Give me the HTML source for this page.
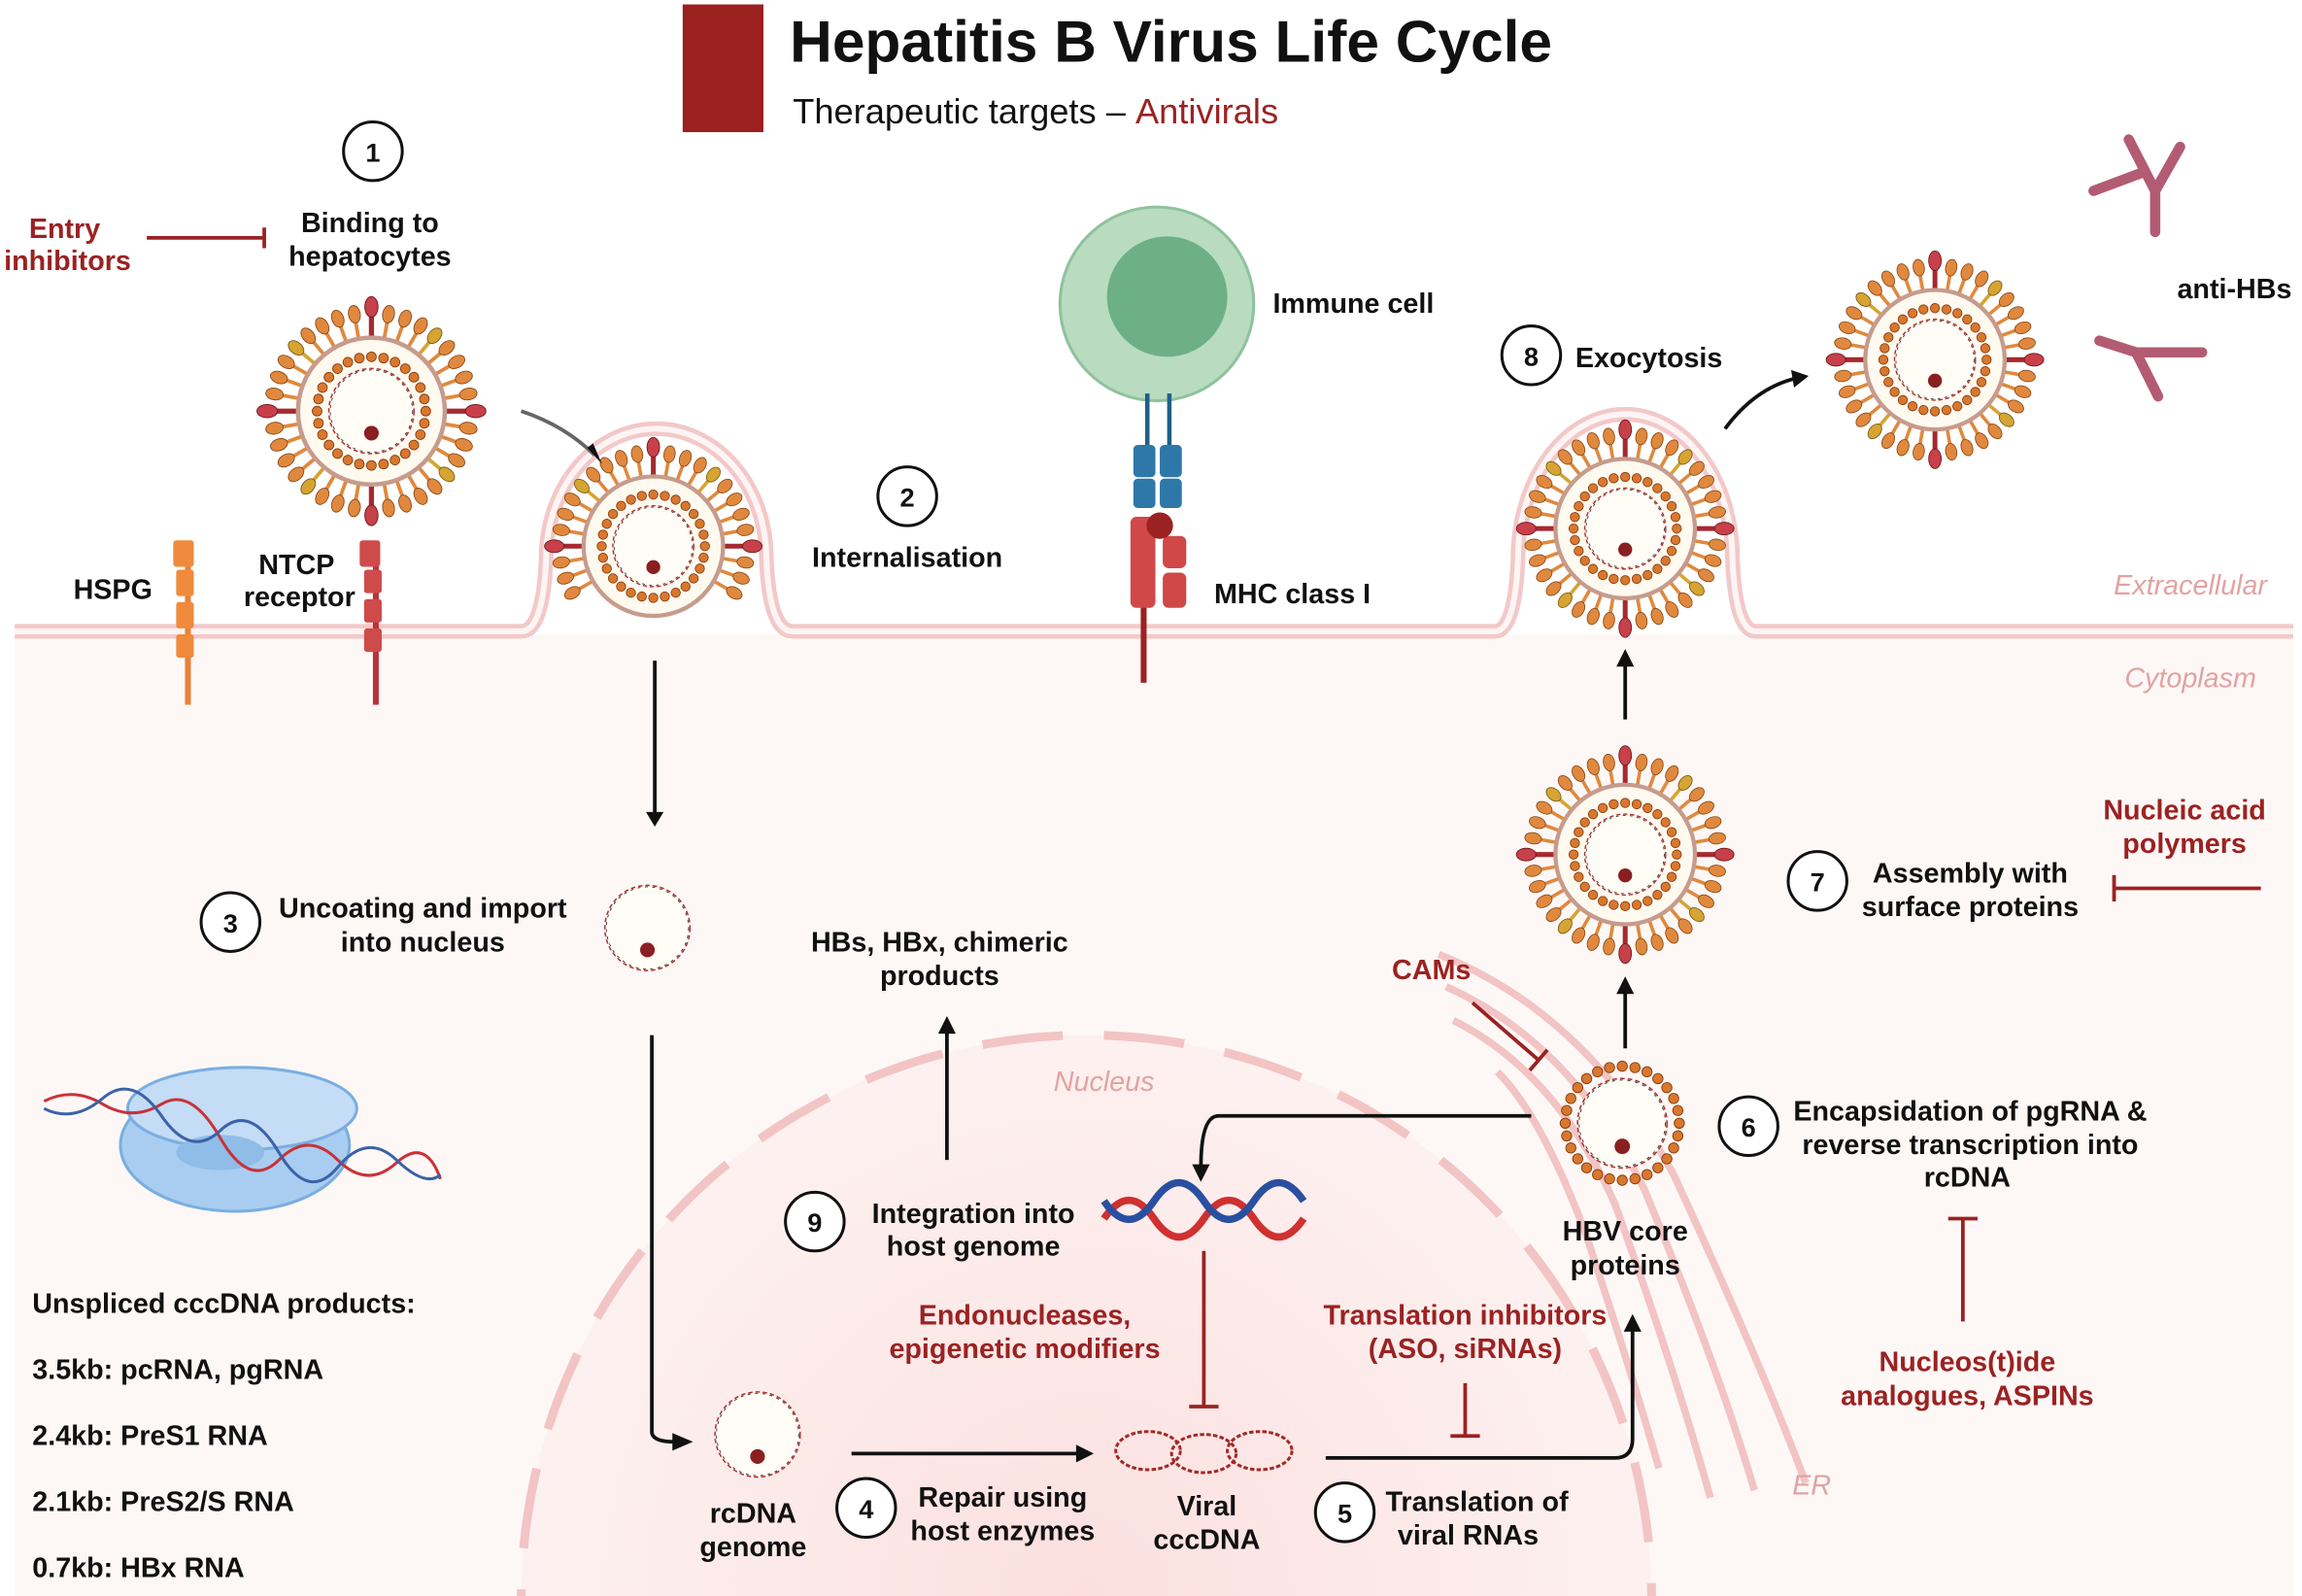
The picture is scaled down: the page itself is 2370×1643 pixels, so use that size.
<!DOCTYPE html>
<html><head><meta charset="utf-8"><style>
html,body{margin:0;padding:0;background:#fff;overflow:hidden;width:2370px;height:1643px}
svg{display:block}
text{font-family:"Liberation Sans",Arial,sans-serif;font-weight:bold;fill:#111}
.r{fill:#9b2222}
.it{font-style:italic;font-weight:normal;fill:#e3a2a2}
</style></head><body>
<svg width="2370" height="1643" viewBox="0 0 1568 1087" xmlns="http://www.w3.org/2000/svg" xmlns:xlink="http://www.w3.org/1999/xlink">
<defs>
<radialGradient id="nuc" cx="0.5" cy="0.5" r="0.5"><stop offset="0" stop-color="#fbe0df"/><stop offset="1" stop-color="#fdf1f0"/></radialGradient>
<g id="o"><line x1="50" y1="0" x2="64" y2="0" stroke="#e0893e" stroke-width="2.5"/><ellipse cx="67" cy="0" rx="6" ry="4" fill="#e0893e" stroke="#8a4a1a" stroke-width="0.6"/></g>
<g id="rd"><line x1="50" y1="0" x2="68" y2="0" stroke="#a52a30" stroke-width="3.5"/><ellipse cx="71" cy="0" rx="7" ry="4.5" fill="#c8404a" stroke="#6a1a1a" stroke-width="0.6"/></g>
<g id="y"><line x1="50" y1="0" x2="64" y2="0" stroke="#d6a531" stroke-width="2.5"/><ellipse cx="67" cy="0" rx="6" ry="4" fill="#d6a531" stroke="#7a5a1a" stroke-width="0.6"/></g>
<g id="spT">
<use xlink:href="#rd" href="#rd"/><use xlink:href="#o" href="#o" transform="rotate(10)"/><use xlink:href="#o" href="#o" transform="rotate(20)"/><use xlink:href="#o" href="#o" transform="rotate(30)"/>
<use xlink:href="#o" href="#o" transform="rotate(150)"/><use xlink:href="#o" href="#o" transform="rotate(160)"/><use xlink:href="#o" href="#o" transform="rotate(170)"/><use xlink:href="#rd" href="#rd" transform="rotate(180)"/>
<use xlink:href="#o" href="#o" transform="rotate(190)"/><use xlink:href="#o" href="#o" transform="rotate(200)"/><use xlink:href="#o" href="#o" transform="rotate(210)"/><use xlink:href="#y" href="#y" transform="rotate(220)"/>
<use xlink:href="#o" href="#o" transform="rotate(230)"/><use xlink:href="#o" href="#o" transform="rotate(240)"/><use xlink:href="#o" href="#o" transform="rotate(250)"/><use xlink:href="#o" href="#o" transform="rotate(260)"/>
<use xlink:href="#rd" href="#rd" transform="rotate(270)"/><use xlink:href="#o" href="#o" transform="rotate(280)"/><use xlink:href="#o" href="#o" transform="rotate(290)"/><use xlink:href="#o" href="#o" transform="rotate(300)"/>
<use xlink:href="#y" href="#y" transform="rotate(310)"/><use xlink:href="#o" href="#o" transform="rotate(320)"/><use xlink:href="#o" href="#o" transform="rotate(330)"/><use xlink:href="#o" href="#o" transform="rotate(340)"/><use xlink:href="#o" href="#o" transform="rotate(350)"/>
</g>
<g id="spB">
<use xlink:href="#y" href="#y" transform="rotate(40)"/><use xlink:href="#o" href="#o" transform="rotate(50)"/><use xlink:href="#o" href="#o" transform="rotate(60)"/><use xlink:href="#o" href="#o" transform="rotate(70)"/>
<use xlink:href="#o" href="#o" transform="rotate(80)"/><use xlink:href="#rd" href="#rd" transform="rotate(90)"/><use xlink:href="#o" href="#o" transform="rotate(100)"/><use xlink:href="#o" href="#o" transform="rotate(110)"/>
<use xlink:href="#o" href="#o" transform="rotate(120)"/><use xlink:href="#y" href="#y" transform="rotate(130)"/><use xlink:href="#o" href="#o" transform="rotate(140)"/>
</g>
<circle id="cd" cx="37" cy="0" r="3.3" fill="#d8782e" stroke="#8a3b10" stroke-width="0.6"/>
<g id="ring">
<circle r="29" fill="#fffdf6" stroke="#b03030" stroke-width="1" stroke-dasharray="3 2"/>
<circle r="28" fill="none" stroke="#333" stroke-width="0.6" stroke-dasharray="2 3"/>
<circle cx="0" cy="15" r="5" fill="#8a1f22"/>
</g>
<g id="core">
<use xlink:href="#cd" href="#cd"/><use xlink:href="#cd" href="#cd" transform="rotate(12.86)"/><use xlink:href="#cd" href="#cd" transform="rotate(25.7)"/><use xlink:href="#cd" href="#cd" transform="rotate(38.6)"/>
<use xlink:href="#cd" href="#cd" transform="rotate(51.4)"/><use xlink:href="#cd" href="#cd" transform="rotate(64.3)"/><use xlink:href="#cd" href="#cd" transform="rotate(77.1)"/><use xlink:href="#cd" href="#cd" transform="rotate(90)"/>
<use xlink:href="#cd" href="#cd" transform="rotate(102.9)"/><use xlink:href="#cd" href="#cd" transform="rotate(115.7)"/><use xlink:href="#cd" href="#cd" transform="rotate(128.6)"/><use xlink:href="#cd" href="#cd" transform="rotate(141.4)"/>
<use xlink:href="#cd" href="#cd" transform="rotate(154.3)"/><use xlink:href="#cd" href="#cd" transform="rotate(167.1)"/><use xlink:href="#cd" href="#cd" transform="rotate(180)"/><use xlink:href="#cd" href="#cd" transform="rotate(192.9)"/>
<use xlink:href="#cd" href="#cd" transform="rotate(205.7)"/><use xlink:href="#cd" href="#cd" transform="rotate(218.6)"/><use xlink:href="#cd" href="#cd" transform="rotate(231.4)"/><use xlink:href="#cd" href="#cd" transform="rotate(244.3)"/>
<use xlink:href="#cd" href="#cd" transform="rotate(257.1)"/><use xlink:href="#cd" href="#cd" transform="rotate(270)"/><use xlink:href="#cd" href="#cd" transform="rotate(282.9)"/><use xlink:href="#cd" href="#cd" transform="rotate(295.7)"/>
<use xlink:href="#cd" href="#cd" transform="rotate(308.6)"/><use xlink:href="#cd" href="#cd" transform="rotate(321.4)"/><use xlink:href="#cd" href="#cd" transform="rotate(334.3)"/><use xlink:href="#cd" href="#cd" transform="rotate(347.1)"/>
<use xlink:href="#ring" href="#ring"/>
</g>
<g id="vT"><use xlink:href="#spT" href="#spT"/><circle r="50" fill="#fffaf0" stroke="#c79b8c" stroke-width="3"/><use xlink:href="#core" href="#core"/></g>
<g id="v"><use xlink:href="#spB" href="#spB"/><use xlink:href="#vT" href="#vT"/></g>
</defs>
<!-- cytoplasm -->
<rect x="10" y="432" width="1552" height="655" fill="#fdf8f6"/>
<!-- nucleus -->
<circle cx="740" cy="1090" r="385" fill="url(#nuc)" stroke="#f3c4c4" stroke-width="6" stroke-dasharray="55 28"/>
<!-- ER -->
<g fill="none" stroke="#f2c4c4" stroke-width="5">
<path d="M980,650 Q1080,690 1140,800 Q1200,930 1230,1010"/>
<path d="M985,672 Q1070,710 1120,810 Q1170,930 1195,1015"/>
<path d="M990,695 Q1060,730 1100,820 Q1140,930 1165,1020"/>
<path d="M1020,730 Q1050,760 1080,840 Q1110,930 1130,1000"/>
</g>
<!-- membrane -->
<path d="M10,430 H355 Q370,430 372,380 A75,88 0 0 1 522,380 Q524,430 540,430 H1018 Q1032,430 1034,380 A73,98 0 0 1 1180,380 Q1182,430 1196,430 H1562" fill="none" stroke="#f3c8c8" stroke-width="10"/>
<path d="M10,430 H355 Q370,430 372,380 A75,88 0 0 1 522,380 Q524,430 540,430 H1018 Q1032,430 1034,380 A73,98 0 0 1 1180,380 Q1182,430 1196,430 H1562" fill="none" stroke="#fdf4f4" stroke-width="4"/>
<!-- viruses -->
<use xlink:href="#v" href="#v" transform="translate(253,280)"/>
<use xlink:href="#vT" href="#vT" transform="translate(445,372) scale(0.95)"/>
<use xlink:href="#v" href="#v" transform="translate(1107,360) scale(0.95)"/>
<use xlink:href="#v" href="#v" transform="translate(1318,245) scale(0.95)"/>
<use xlink:href="#v" href="#v" transform="translate(1107,582) scale(0.95)"/>
<use xlink:href="#core" href="#core" transform="translate(1105,765) scale(1.05)"/>
<use xlink:href="#ring" href="#ring" transform="translate(441,632)"/>
<use xlink:href="#ring" href="#ring" transform="translate(516,977)"/>
<!-- Title -->
<rect x="465" y="3" width="55" height="87" fill="#9b2020"/>
<text x="538" y="42" font-size="40">Hepatitis B Virus Life Cycle</text>
<text x="540" y="84" font-size="24" style="font-weight:normal">Therapeutic targets – <tspan class="r">Antivirals</tspan></text>
<!-- numbers -->
<g fill="#fff" stroke="#111" stroke-width="2">
<circle cx="254" cy="103" r="20"/><circle cx="618" cy="338" r="20"/><circle cx="157" cy="628" r="20"/>
<circle cx="590" cy="1027" r="20"/><circle cx="916" cy="1030" r="20"/><circle cx="1191" cy="767" r="20"/>
<circle cx="1238" cy="600" r="20"/><circle cx="1043" cy="242" r="20"/><circle cx="555" cy="832" r="20"/>
</g>
<g font-size="18" text-anchor="middle">
<text x="254" y="110">1</text><text x="618" y="345">2</text><text x="157" y="635">3</text>
<text x="590" y="1034">4</text><text x="916" y="1037">5</text><text x="1191" y="774">6</text>
<text x="1238" y="607">7</text><text x="1043" y="249">8</text><text x="555" y="839">9</text>
</g>
<g font-size="19">
<text x="252" y="158" text-anchor="middle">Binding to</text><text x="252" y="181" text-anchor="middle">hepatocytes</text>
<text class="r" x="44" y="162" text-anchor="middle">Entry</text><text class="r" x="46" y="184" text-anchor="middle">inhibitors</text>
<text x="618" y="386" text-anchor="middle">Internalisation</text>
<text x="50" y="408">HSPG</text>
<text x="202" y="391" text-anchor="middle">NTCP</text><text x="204" y="413" text-anchor="middle">receptor</text>
<text x="867" y="213">Immune cell</text>
<text x="827" y="411">MHC class I</text>
<text x="1073" y="250">Exocytosis</text>
<text x="1522" y="203" text-anchor="middle">anti-HBs</text>
<text x="288" y="625" text-anchor="middle">Uncoating and import</text><text x="288" y="648" text-anchor="middle">into nucleus</text>
<text x="640" y="648" text-anchor="middle">HBs, HBx, chimeric</text><text x="640" y="671" text-anchor="middle">products</text>
<text x="1342" y="601" text-anchor="middle">Assembly with</text><text x="1342" y="624" text-anchor="middle">surface proteins</text>
<text class="r" x="1488" y="558" text-anchor="middle">Nucleic acid</text><text class="r" x="1488" y="581" text-anchor="middle">polymers</text>
<text class="r" x="975" y="667" text-anchor="middle">CAMs</text>
<text x="1342" y="763" text-anchor="middle">Encapsidation of pgRNA &amp;</text><text x="1342" y="786" text-anchor="middle">reverse transcription into</text><text x="1340" y="808" text-anchor="middle">rcDNA</text>
<text x="663" y="833" text-anchor="middle">Integration into</text><text x="663" y="855" text-anchor="middle">host genome</text>
<text x="1107" y="845" text-anchor="middle">HBV core</text><text x="1107" y="868" text-anchor="middle">proteins</text>
<text class="r" x="698" y="902" text-anchor="middle">Endonucleases,</text><text class="r" x="698" y="925" text-anchor="middle">epigenetic modifiers</text>
<text class="r" x="998" y="902" text-anchor="middle">Translation inhibitors</text><text class="r" x="998" y="925" text-anchor="middle">(ASO, siRNAs)</text>
<text class="r" x="1340" y="934" text-anchor="middle">Nucleos(t)ide</text><text class="r" x="1340" y="957" text-anchor="middle">analogues, ASPINs</text>
<text x="22" y="894">Unspliced cccDNA products:</text>
<text x="22" y="939">3.5kb: pcRNA, pgRNA</text>
<text x="22" y="984">2.4kb: PreS1 RNA</text>
<text x="22" y="1029">2.1kb: PreS2/S RNA</text>
<text x="22" y="1074">0.7kb: HBx RNA</text>
<text x="513" y="1037" text-anchor="middle">rcDNA</text><text x="513" y="1060" text-anchor="middle">genome</text>
<text x="683" y="1026" text-anchor="middle">Repair using</text><text x="683" y="1049" text-anchor="middle">host enzymes</text>
<text x="822" y="1032" text-anchor="middle">Viral</text><text x="822" y="1055" text-anchor="middle">cccDNA</text>
<text x="1006" y="1029" text-anchor="middle">Translation of</text><text x="1000" y="1052" text-anchor="middle">viral RNAs</text>
</g>
<g font-size="19">
<text class="it" x="1492" y="405" text-anchor="middle">Extracellular</text>
<text class="it" x="1492" y="468" text-anchor="middle">Cytoplasm</text>
<text class="it" x="752" y="743" text-anchor="middle">Nucleus</text>
<text class="it" x="1234" y="1018" text-anchor="middle">ER</text>
</g>
<!-- arrows -->
<g stroke="#111" stroke-width="2.5" fill="none">
<path d="M446,450 V555"/><path d="M444,705 V975 Q444,982 460,982"/>
<path d="M580,990 H735"/><path d="M903,993 H1100 Q1112,993 1112,980 V905"/>
<path d="M645,790 V702"/><path d="M1043,760 H830 Q818,760 818,795"/>
<path d="M1107,714 V675"/><path d="M1107,490 V452"/>
<path d="M1175,292 Q1195,265 1222,258"/>
<path d="M355,280 Q385,290 405,310" stroke="#666"/>
</g>
<g fill="#111">
<path d="M440,553 L446,563 L452,553Z"/><path d="M458,976 L472,982 L458,988Z"/><path d="M733,984 L745,990 L733,996Z"/>
<path d="M1106,907 L1112,895 L1118,907Z"/><path d="M639,704 L645,692 L651,704Z"/><path d="M812,793 L818,805 L824,793Z"/>
<path d="M1101,677 L1107,665 L1113,677Z"/><path d="M1101,454 L1107,442 L1113,454Z"/><path d="M1220,252 L1232,256 L1222,264Z"/>
<path d="M400,305 L410,316 L404,302Z"/>
</g>
<!-- inhibitor lines -->
<g stroke="#9b2222" stroke-width="2.5" fill="none">
<path d="M100,162 H180 M180,155 V169"/>
<path d="M1540,605 H1440 M1440,596 V614"/>
<path d="M1003,683 L1048,722 M1042,729 L1054,715"/>
<path d="M820,852 V958 M810,958 H830"/>
<path d="M998,942 V978 M988,978 H1008"/>
<path d="M1337,900 V830 M1327,830 H1347"/>
</g>
<!-- receptors -->
<rect x="126" y="370" width="4" height="110" fill="#e8823a"/>
<g fill="#f08a3c"><rect x="118" y="368" width="14" height="18" rx="2"/><rect x="120" y="388" width="12" height="18" rx="2"/><rect x="120" y="410" width="12" height="18" rx="2"/><rect x="120" y="432" width="12" height="16" rx="2"/></g>
<rect x="254" y="370" width="4" height="110" fill="#b8323a"/>
<g fill="#cf4b4b"><rect x="245" y="368" width="14" height="18" rx="2"/><rect x="248" y="388" width="12" height="16" rx="2"/><rect x="248" y="408" width="12" height="16" rx="2"/><rect x="248" y="428" width="12" height="16" rx="2"/></g>
<!-- immune cell -->
<circle cx="788" cy="207" r="66" fill="#b9dcc0" stroke="#8fc29c" stroke-width="2"/>
<circle cx="795" cy="202" r="41" fill="#6db088"/>
<rect x="780" y="268" width="3" height="40" fill="#1f5f8a"/><rect x="795" y="268" width="3" height="40" fill="#1f5f8a"/>
<g fill="#2d78a8"><rect x="772" y="303" width="15" height="22" rx="3"/><rect x="790" y="303" width="15" height="22" rx="3"/><rect x="772" y="326" width="15" height="20" rx="3"/><rect x="790" y="326" width="15" height="20" rx="3"/></g>
<rect x="777" y="400" width="4" height="65" fill="#9b2222"/>
<g fill="#d04848"><rect x="770" y="352" width="17" height="62" rx="4"/><rect x="792" y="365" width="16" height="22" rx="4"/><rect x="792" y="390" width="16" height="24" rx="4"/></g>
<circle cx="790" cy="358" r="9" fill="#9b2222"/>
<!-- antibodies -->
<g stroke="#b35b73" stroke-width="7" stroke-linecap="round" fill="none">
<path d="M1468,158 V130 L1450,95 M1468,130 L1485,100 M1426,130 L1458,118"/>
<path d="M1470,270 L1455,240 L1430,232 M1455,240 L1500,240"/>
</g>
<!-- ribosome -->
<ellipse cx="160" cy="780" rx="78" ry="45" fill="#a9cdf0" stroke="#7aaee0" stroke-width="2"/>
<ellipse cx="165" cy="755" rx="78" ry="28" fill="#c4dcf5" stroke="#7aaee0" stroke-width="2"/>
<ellipse cx="150" cy="785" rx="30" ry="12" fill="#8fbde8"/>
<path d="M30,750 Q50,740 70,752 T110,752 T150,775 T190,790 T230,790 T270,792 T300,803" fill="none" stroke="#c8333a" stroke-width="2"/>
<path d="M30,755 Q50,765 70,748 T110,760 T150,770 T190,785 T230,795 T270,790 T300,800" fill="none" stroke="#3c62a8" stroke-width="2"/>
<!-- dsDNA host genome -->
<path d="M752,830 q17,-25 34,0 t34,0 t34,0 t34,0" fill="none" stroke="#d03030" stroke-width="5"/>
<path d="M752,818 q17,25 34,0 t34,0 t34,0 t34,0" fill="none" stroke="#2b4fa0" stroke-width="5"/>
<!-- cccDNA -->
<g fill="none" stroke="#a32828" stroke-width="2" stroke-dasharray="3 1.5"><ellipse cx="782" cy="988" rx="22" ry="13"/><ellipse cx="820" cy="990" rx="22" ry="13"/><ellipse cx="858" cy="988" rx="22" ry="13"/></g>
</svg>
</body></html>
